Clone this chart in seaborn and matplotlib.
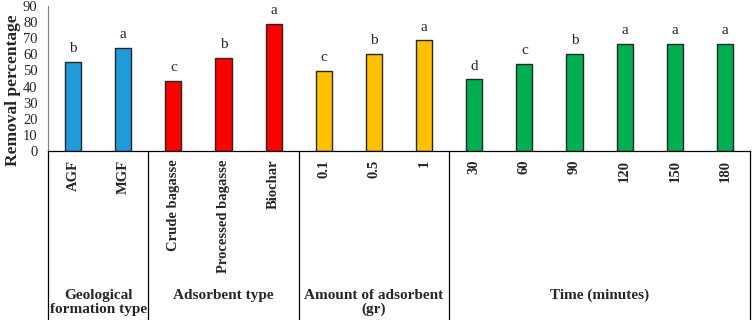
import pandas as pd
import numpy as np
import matplotlib
matplotlib.use('Agg')
import matplotlib.pyplot as plt
import seaborn as sns

# Data
labels = ['AGF', 'MGF', 'Crude bagasse', 'Processed bagasse', 'Biochar',
          '0.1', '0.5', '1', '30', '60', '90', '120', '150', '180']
values = [55.3, 64.0, 43.5, 57.8, 78.9,
          49.9, 60.4, 68.8, 44.5, 54.2, 60.4, 66.6, 66.6, 66.6]
letters = ['b', 'a', 'c', 'b', 'a',
           'c', 'b', 'a', 'd', 'c', 'b', 'a', 'a', 'a']
groups = ['Geological\nformation type'] * 2 + ['Adsorbent type'] * 3 + \
         ['Amount of adsorbent\n(gr)'] * 3 + ['Time (minutes)'] * 6
group_colors = ['#1F9BDB', '#FF0000', '#FFC000', '#00B050']

df = pd.DataFrame({'label': labels, 'value': values, 'group': groups})
group_names = list(dict.fromkeys(groups))

sns.set_style('white')
plt.rcParams['font.family'] = ['Liberation Serif', 'DejaVu Serif']

fig = plt.figure(figsize=(7.54, 3.2), dpi=100)
ax = fig.add_axes([48 / 754, 169 / 320, 702 / 754, 145 / 320])

sns.barplot(data=df, x='label', y='value', hue='group', order=labels,
            hue_order=group_names, palette=group_colors, dodge=False,
            saturation=1, width=0.32, edgecolor='#262626', linewidth=1.0,
            legend=False, ax=ax)

# significance letters
for i, (v, t) in enumerate(zip(values, letters)):
    ax.text(i, v + 4, t, ha='center', va='bottom', fontsize=11)

ax.set_ylim(0, 90)
ax.set_xlim(-0.5, len(labels) - 0.5)
ax.set_yticks(range(0, 91, 10))
ax.tick_params(axis='y', length=0, labelsize=10.5, pad=7.5)
ax.set_xticks([])
ax.set_xlabel('')
ax.set_ylabel('Removal percentage', fontsize=12.5, fontweight='bold')
ax.yaxis.set_label_coords(-0.039, 0.42)

for s in ['top', 'right']:
    ax.spines[s].set_visible(False)
ax.spines['left'].set_color('#7f7f7f')
ax.spines['left'].set_linewidth(0.8)
ax.spines['bottom'].set_color('black')
ax.spines['bottom'].set_linewidth(0.9)

# category table under the axis
tr = ax.get_xaxis_transform()
bottom = -169 / 145
for i, lab in enumerate(labels):
    ax.text(i, -0.06, lab, transform=tr, rotation=90, ha='center', va='top',
            fontsize=10.5, fontweight='bold')

start = 0
bounds = [-0.5]
for g in group_names:
    n = groups.count(g)
    bounds.append(start + n - 0.5)
    mid = start + (n - 1) / 2
    ax.text(mid, -0.95, g, transform=tr, ha='center', va='top',
            fontsize=11, fontweight='bold', linespacing=1.12)
    start += n

for b in bounds:
    ax.plot([b, b], [0, bottom], transform=tr, color='black', lw=0.9,
            clip_on=False)

fig.savefig('out.png', dpi=100)
